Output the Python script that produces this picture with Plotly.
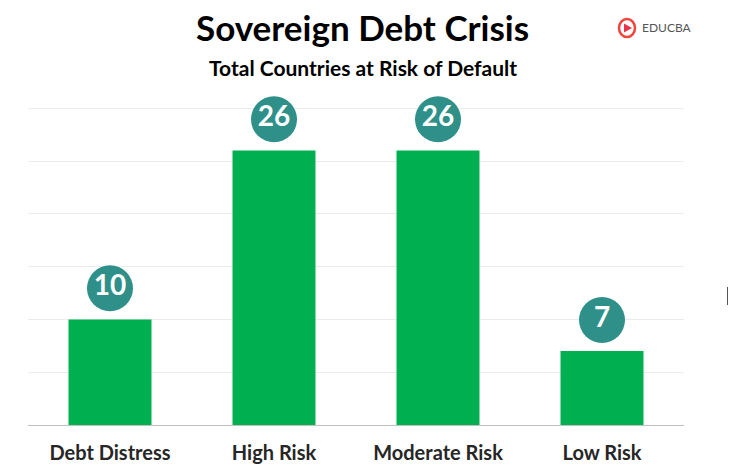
import plotly.graph_objects as go

categories = ["Debt Distress", "High Risk", "Moderate Risk", "Low Risk"]
values = [10, 26, 26, 7]
label_offset = 2.95  # in data units above bar

W, H = 729, 473
L, R, T, B = 28, 45, 103, 48
YMAX = 30.5

FONT = "Lato, 'Open Sans', sans-serif"

fig = go.Figure()
fig.add_trace(go.Bar(
    x=categories, y=values,
    marker=dict(color="#00B050", line=dict(width=0)),
    width=0.506, hoverinfo="skip",
))
fig.add_trace(go.Scatter(
    x=categories, y=[v + label_offset for v in values],
    mode="markers+text",
    marker=dict(size=46, color="#2E9088", line=dict(width=0)),
    text=[str(v) for v in values],
    textposition="middle center",
    textfont=dict(family=FONT, size=28, color="white", weight="bold"),
    hoverinfo="skip", cliponaxis=False,
))

fig.update_layout(
    width=W, height=H,
    margin=dict(l=L, r=R, t=T, b=B, autoexpand=False),
    paper_bgcolor="white", plot_bgcolor="white",
    showlegend=False,
    bargap=0.49,
    xaxis=dict(
        automargin=False,
        showgrid=False, showline=True, linecolor="#BFBFBF", linewidth=1,
        ticks="", tickfont=dict(family=FONT, size=20, color="#262626", weight="bold"),
        ticklabelstandoff=10,
    ),
    yaxis=dict(
        automargin=False,
        range=[0, YMAX], dtick=5, showticklabels=False,
        showgrid=True, gridcolor="#EBEBEB", gridwidth=1,
        zeroline=False, showline=False,
    ),
    font=dict(family=FONT),
)


def px_to_paper_x(px):
    return (px - L) / (W - L - R)


def px_to_paper_y(py):
    return (H - B - py) / (H - T - B)


for text, px, py, xa, s, c in [
    ("<b>Sovereign Debt Crisis</b>", 362, 27, "center", 35, "black"),
    ("<b>Total Countries at Risk of Default</b>", 363, 68, "center", 21, "black"),
    ("EDUCBA", 640, 28, "left", 12, "#555555"),
]:
    fig.add_annotation(
        text=text, x=px_to_paper_x(px), y=px_to_paper_y(py),
        xref="paper", yref="paper", xanchor=xa, yanchor="middle",
        showarrow=False, font=dict(size=s, color=c, family=FONT),
    )

# logo icon
fig.add_shape(type="circle", xref="paper", yref="paper",
              x0=px_to_paper_x(619), x1=px_to_paper_x(635),
              y0=px_to_paper_y(37), y1=px_to_paper_y(19),
              line=dict(color="#F0453A", width=2.5))
fig.add_shape(type="path", xref="paper", yref="paper",
              path=f"M {px_to_paper_x(624)} {px_to_paper_y(23.5)} L {px_to_paper_x(624)} {px_to_paper_y(32.5)} L {px_to_paper_x(632)} {px_to_paper_y(28)} Z",
              fillcolor="#E8344A", line=dict(width=0))

# small vertical mark at right edge
fig.add_shape(type="line", xref="paper", yref="paper",
              x0=px_to_paper_x(727.5), x1=px_to_paper_x(727.5),
              y0=px_to_paper_y(287), y1=px_to_paper_y(305),
              line=dict(color="#555555", width=1))

fig.write_html(
    "out.html",
    config={"displayModeBar": False},
    post_script="document.body.style.margin='0';document.body.style.overflow='hidden';",
)
